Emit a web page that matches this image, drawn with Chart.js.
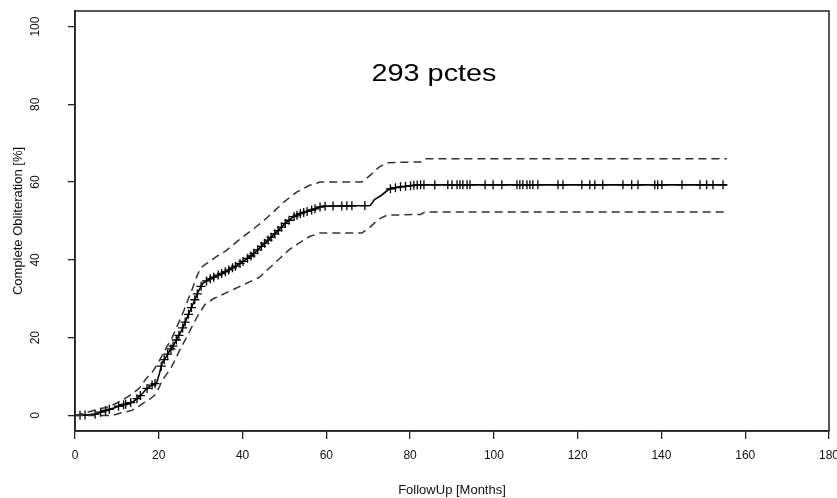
<!DOCTYPE html>
<html>
<head>
<meta charset="utf-8">
<script src="https://cdn.jsdelivr.net/npm/chart.js@4.4.1/dist/chart.umd.min.js"></script>
<style>
  html, body { margin: 0; padding: 0; background: #fff; }
  canvas { display: block; }
</style>
</head>
<body>
<canvas id="kmChart" width="837" height="498"></canvas>
<script>
// Kaplan-Meier estimate (months / %)
const kmTime = [0, 4.5, 6.5, 8, 9.5, 11, 12.5, 14, 15, 16, 17, 18, 19.5, 20.2, 20.8, 21.7, 22.5, 23.5, 24.5, 25.5, 26.5, 27.5, 28.5, 29.5, 30.5, 32, 34, 36, 39, 42, 45, 48, 50, 52, 54, 57, 59, 70.5, 71.5, 73, 75, 77, 82, 155.6];
const kmSurv = [0, 0.2, 1.0, 1.5, 2.0, 2.6, 3.0, 3.6, 4.5, 5.5, 6.8, 7.6, 8.4, 11, 13.5, 15, 16.5, 18, 20, 22, 24.5, 27, 29.5, 32, 34, 35, 36, 37, 38.8, 41, 44, 47, 49.2, 51, 52, 53, 53.8, 54, 55.5, 56.5, 58.2, 58.7, 59.3, 59.3];

// upper / lower confidence limits
const upTime = [0, 3, 5.5, 8, 10, 12, 14, 15.5, 17, 18.5, 20, 21, 22, 23, 24, 25, 26, 27, 28, 29, 30, 32, 34, 36, 39, 42, 45, 48, 50, 53, 56, 58.5, 68.5, 70.5, 72.5, 74.5, 82.5, 83.5, 155.6];
const upVal = [0, 0.8, 1.6, 2.2, 3.2, 4.4, 5.8, 7.2, 9.5, 11.2, 13.8, 15.8, 17.8, 19.6, 22, 24.5, 27, 29.8, 32.5, 35.5, 38, 39.5, 41, 42.3, 45, 47.5, 50, 53, 55, 57.5, 59.2, 60, 60, 61.8, 63.8, 65, 65.2, 66, 66];
const loTime = [0, 9, 10.5, 12, 13.6, 15, 16.7, 18, 19, 20, 20.8, 22, 23, 24, 25, 26.5, 28, 29.5, 31, 33, 36, 40, 44, 47, 49, 51, 53, 56, 58.5, 68.5, 70.5, 72.5, 74.5, 82.5, 83.5, 155.6];
const loVal = [0, 0, 0.5, 0.9, 1.3, 2.2, 3.4, 4.3, 5.2, 7, 9, 10.8, 12.4, 14.5, 16.8, 19.8, 23, 26, 28.5, 30, 31.5, 33.5, 35.5, 38.5, 40.5, 42.5, 44, 46, 46.9, 46.9, 48.5, 50.5, 51.5, 51.7, 52.3, 52.3];

// censored observations (months)
const censorTimes = [1.2, 2.4, 4.8, 6.1, 7.3, 8.2, 10.4, 11.6, 12.1, 13.3, 14.8, 15.6, 17.2, 18.4, 19.1, 20.6, 21.3, 22.1, 22.9, 23.4, 24.2, 24.8, 25.7, 26.3, 27.1, 27.8, 28.6, 29.2, 30.1, 31.4, 32.3, 33.1, 34.2, 35.0, 35.9, 36.7, 37.6, 38.3, 39.4, 40.1, 41.2, 42.0, 42.7, 43.6, 44.5, 45.3, 46.1, 46.8, 47.7, 48.5, 49.3, 50.2, 51.1, 52.3, 53.0, 53.8, 54.6, 55.4, 56.5, 57.3,
  58.5, 59.7, 61.6, 63.7, 64.9, 66.1, 69.2, 75.3, 76.5, 77.7, 78.9, 80.1, 80.9, 81.7, 82.5, 83.3, 85.9,
  89, 90, 91.2, 91.9, 92.6, 93.6, 94.3, 97.9, 99.8, 101.9, 105.5, 106.2, 106.9, 107.9, 108.6, 109.3, 110.5,
  115.3, 116.5, 121, 122.9, 124.1, 126, 130.8, 132.9, 134.4, 138.4, 139.1, 140.1, 144.9, 149.2, 150.8, 152.3, 154.7];

const xTicks = [0, 20, 40, 60, 80, 100, 120, 140, 160, 180];
const yTicks = [0, 20, 40, 60, 80, 100];

const FONT = "'Liberation Sans', Arial, sans-serif";

function toPoints(ts, vs) {
  return ts.map((t, i) => ({ x: t, y: vs[i] }));
}

// read the KM curve at time t (censor marks sit on the curve)
function kmAt(t) {
  for (let i = 1; i < kmTime.length; i++) {
    if (t <= kmTime[i]) {
      const f = (t - kmTime[i - 1]) / (kmTime[i] - kmTime[i - 1]);
      return kmSurv[i - 1] + f * (kmSurv[i] - kmSurv[i - 1]);
    }
  }
  return kmSurv[kmSurv.length - 1];
}

const frame = {
  id: "frame",
  afterDraw(chart) {
    const ctx = chart.ctx;
    const a = chart.chartArea;
    const xs = chart.scales.x;
    const ys = chart.scales.y;
    ctx.save();
    ctx.strokeStyle = "#222";
    ctx.lineWidth = 1.5;
    ctx.strokeRect(a.left, a.top, a.right - a.left, a.bottom - a.top);

    ctx.fillStyle = "#111";
    ctx.font = "12px " + FONT;
    ctx.textAlign = "center";
    ctx.textBaseline = "middle";
    yTicks.forEach((v) => {
      ctx.save();
      ctx.translate(36, ys.getPixelForValue(v));
      ctx.rotate(-Math.PI / 2);
      ctx.fillText(String(v), 0, 0);
      ctx.restore();
    });
    xTicks.forEach((v) => {
      ctx.fillText(String(v), xs.getPixelForValue(v), 456);
    });

    ctx.font = "13px " + FONT;
    ctx.fillText("FollowUp [Months]", (a.left + a.right) / 2, 490);
    ctx.save();
    ctx.translate(18, (a.top + a.bottom) / 2);
    ctx.rotate(-Math.PI / 2);
    ctx.fillText("Complete Obliteration [%]", 0, 0);
    ctx.restore();

    ctx.fillStyle = "#000";
    ctx.font = "24px " + FONT;
    ctx.save();
    ctx.translate(434, 74);
    ctx.scale(1.2, 1);
    ctx.fillText("293 pctes", 0, 0);
    ctx.restore();
    ctx.restore();
  }
};

const ctx = document.getElementById("kmChart").getContext("2d");
const kmChart = new Chart(ctx, {
  type: "scatter",
  data: {
    datasets: [
      {
        label: "Upper",
        data: toPoints(upTime, upVal),
        showLine: true,
        borderColor: "#333",
        borderWidth: 1.5,
        borderDash: [8, 5],
        pointRadius: 0,
      },
      {
        label: "Lower",
        data: toPoints(loTime, loVal),
        showLine: true,
        borderColor: "#333",
        borderWidth: 1.5,
        borderDash: [8, 5],
        pointRadius: 0,
      },
      {
        label: "KM",
        data: toPoints(kmTime, kmSurv),
        showLine: true,
        borderColor: "#000",
        borderWidth: 1.6,
        pointRadius: 0,
      },
      {
        label: "Censored",
        data: censorTimes.map((t) => ({ x: t, y: kmAt(t) })),
        showLine: false,
        pointStyle: "cross",
        pointRadius: 4.5,
        borderColor: "#000",
        borderWidth: 1.3,
      },
    ],
  },
  options: {
    responsive: false,
    animation: false,
    devicePixelRatio: 1,
    layout: {
      padding: { left: 68, right: 8, top: 11, bottom: 59 },
    },
    plugins: {
      legend: { display: false },
      tooltip: { enabled: false },
    },
    scales: {
      x: {
        type: "linear",
        min: 0,
        max: 180,
        afterBuildTicks: (axis) => {
          axis.ticks = xTicks.map((v) => ({ value: v }));
        },
        ticks: { display: false },
        grid: {
          drawOnChartArea: false,
          drawTicks: true,
          tickLength: 8,
          color: "#222",
          lineWidth: 1.3,
        },
        border: { color: "#222", width: 1.5 },
      },
      y: {
        type: "linear",
        min: -4,
        max: 104,
        afterBuildTicks: (axis) => {
          axis.ticks = yTicks.map((v) => ({ value: v }));
        },
        ticks: { display: false },
        grid: {
          drawOnChartArea: false,
          drawTicks: true,
          tickLength: 7,
          color: "#222",
          lineWidth: 1.3,
        },
        border: { color: "#222", width: 1.5 },
      },
    },
  },
  plugins: [frame],
});
</script>
</body>
</html>
